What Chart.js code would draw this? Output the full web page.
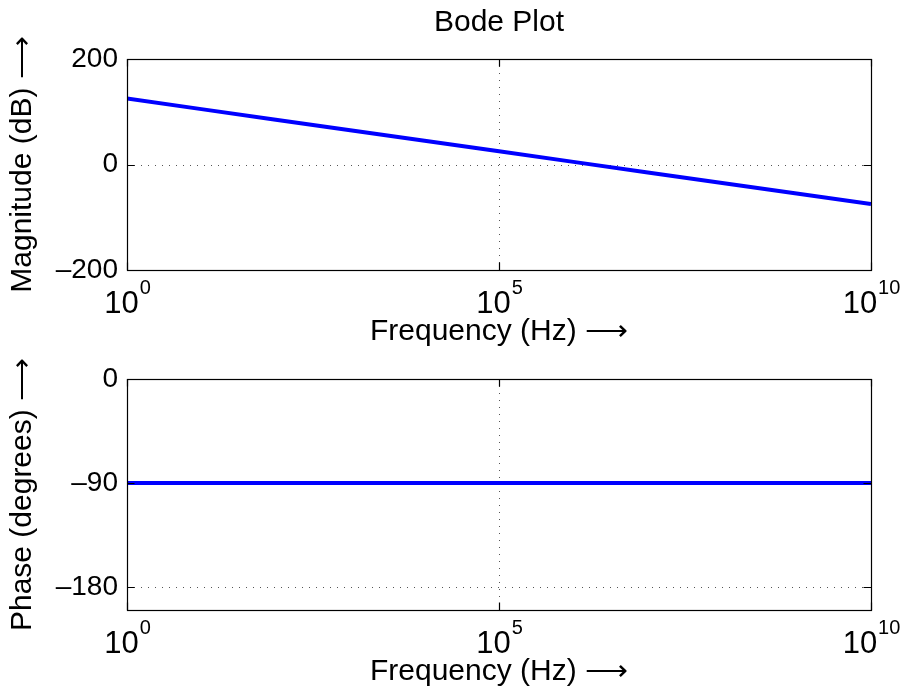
<!DOCTYPE html>
<html>
<head>
<meta charset="utf-8">
<title>Bode Plot</title>
<script src="https://cdn.jsdelivr.net/npm/chart.js@4.4.0/dist/chart.umd.min.js"></script>
<style>
    html, body { margin: 0; padding: 0; background: #fff; }
    #wrap { position: relative; width: 903px; height: 694px; }
    canvas { position: absolute; left: 0; }
</style>
</head>
<body>
<div id="wrap">
    <canvas id="magChart" width="903" height="347" style="top:0"></canvas>
    <canvas id="faseChart" width="903" height="347" style="top:347px"></canvas>
</div>
<script>
// Dados
const frequencias = [1, 10, 100, 1e3, 1e4, 1e5, 1e6, 1e7, 1e8, 1e9, 1e10];
const magnitudeDb = [125, 105, 85, 65, 45, 25, 5, -15, -35, -55, -75];
const faseGraus = [-90, -90, -90, -90, -90, -90, -90, -90, -90, -90, -90];

const ticksFreq = [1, 1e5, 1e10];
const ticksMag = [-200, 0, 200];
const ticksFase = [-180, -90, 0];

const FONTE = '"Liberation Sans", Arial, Helvetica, sans-serif';
const SETA = '\u27F6';

// Formata rótulos no estilo MATLAB (traço longo no negativo)
function formatarTick(v) {
    return v < 0 ? '\u2013' + Math.abs(v) : String(v);
}

// Grade pontilhada, moldura, marcas internas e rótulos 10^n
const estiloMatlab = {
    id: 'estiloMatlab',
    beforeDatasetsDraw(chart) {
        const { ctx, chartArea: a, scales: { x, y } } = chart;
        ctx.save();
        ctx.strokeStyle = '#555';
        ctx.lineWidth = 1;
        ctx.setLineDash([1, 6]);
        x.ticks.forEach(t => {
            const px = Math.round(x.getPixelForValue(t.value)) + 0.5;
            if (px > a.left + 2 && px < a.right - 2) {
                ctx.beginPath();
                ctx.moveTo(px, a.top);
                ctx.lineTo(px, a.bottom);
                ctx.stroke();
            }
        });
        y.ticks.forEach(t => {
            const py = Math.round(y.getPixelForValue(t.value)) + 0.5;
            if (py > a.top + 2 && py < a.bottom - 2) {
                ctx.beginPath();
                ctx.moveTo(a.left, py);
                ctx.lineTo(a.right, py);
                ctx.stroke();
            }
        });
        ctx.restore();
    },
    afterDraw(chart) {
        const { ctx, chartArea: a, scales: { x, y } } = chart;
        const tam = 7.5;
        ctx.save();
        ctx.strokeStyle = '#000';
        ctx.lineWidth = 1.2;
        ctx.setLineDash([]);
        ctx.strokeRect(Math.round(a.left) + 0.5, Math.round(a.top) + 0.5,
            Math.round(a.right - a.left), Math.round(a.bottom - a.top));

        ctx.beginPath();
        x.ticks.forEach(t => {
            const px = Math.round(x.getPixelForValue(t.value)) + 0.5;
            ctx.moveTo(px, a.bottom); ctx.lineTo(px, a.bottom - tam);
            ctx.moveTo(px, a.top); ctx.lineTo(px, a.top + tam);
        });
        y.ticks.forEach(t => {
            const py = Math.round(y.getPixelForValue(t.value)) + 0.5;
            ctx.moveTo(a.left, py); ctx.lineTo(a.left + tam, py);
            ctx.moveTo(a.right, py); ctx.lineTo(a.right - tam, py);
        });
        ctx.stroke();

        // Rótulos do eixo x com expoente
        ctx.fillStyle = '#000';
        ctx.textBaseline = 'alphabetic';
        ctx.textAlign = 'left';
        x.ticks.forEach(t => {
            const px = x.getPixelForValue(t.value);
            const base = '10';
            const exp = String(Math.round(Math.log10(t.value)));
            ctx.font = '31px ' + FONTE;
            const wb = ctx.measureText(base).width;
            ctx.font = '20px ' + FONTE;
            const we = ctx.measureText(exp).width;
            const x0 = px - (wb + we) / 2;
            ctx.font = '31px ' + FONTE;
            ctx.fillText(base, x0, a.bottom + 43);
            ctx.font = '20px ' + FONTE;
            ctx.fillText(exp, x0 + wb + 1, a.bottom + 24);
        });
        ctx.restore();
    }
};

function criarGrafico(id, valores, ticksY, minY, maxY, tituloY, opcoes) {
    return new Chart(document.getElementById(id), {
        type: 'line',
        data: {
            datasets: [{
                data: frequencias.map((f, i) => ({ x: f, y: valores[i] })),
                borderColor: '#0000ff',
                borderWidth: 4,
                pointRadius: 0,
                tension: 0,
                fill: false
            }]
        },
        options: {
            responsive: false,
            animation: false,
            events: [],
            layout: { padding: { top: opcoes.topo, right: 32, left: 0, bottom: 0 } },
            plugins: {
                legend: { display: false },
                tooltip: { enabled: false },
                title: opcoes.titulo ? {
                    display: true,
                    text: opcoes.titulo,
                    fullSize: false,
                    color: '#000',
                    font: { family: FONTE, size: 30, weight: 'normal', lineHeight: 1 },
                    padding: { top: 8, bottom: 21 }
                } : { display: false }
            },
            scales: {
                x: {
                    type: 'logarithmic',
                    min: 1,
                    max: 1e10,
                    afterBuildTicks: s => { s.ticks = ticksFreq.map(v => ({ value: v })); },
                    afterFit: s => { s.height = opcoes.alturaX; },
                    ticks: { display: false },
                    grid: { display: false, drawTicks: false },
                    border: { display: false },
                    title: {
                        display: true,
                        text: 'Frequency (Hz) ' + SETA,
                        color: '#000',
                        font: { family: FONTE, size: 30, lineHeight: 1 },
                        padding: { top: 0, bottom: opcoes.padTituloX }
                    }
                },
                y: {
                    type: 'linear',
                    min: minY,
                    max: maxY,
                    afterBuildTicks: s => { s.ticks = ticksY.map(v => ({ value: v })); },
                    afterFit: s => { s.width = 127; },
                    ticks: {
                        color: '#000',
                        padding: 9,
                        font: { family: FONTE, size: 28 },
                        callback: v => formatarTick(v)
                    },
                    grid: { display: false, drawTicks: false },
                    border: { display: false },
                    title: {
                        display: true,
                        text: tituloY,
                        color: '#000',
                        font: { family: FONTE, size: 30, lineHeight: 1 },
                        padding: { top: 8, bottom: 0 }
                    }
                }
            }
        },
        plugins: [estiloMatlab]
    });
}

criarGrafico('magChart', magnitudeDb, ticksMag, -200, 200, 'Magnitude (dB) ' + SETA,
    { titulo: 'Bode Plot', topo: 0, alturaX: 77, padTituloX: 0 });
criarGrafico('faseChart', faseGraus, ticksFase, -200, 0, 'Phase (degrees) ' + SETA,
    { titulo: null, topo: 32, alturaX: 84, padTituloX: 7 });
</script>
</body>
</html>
